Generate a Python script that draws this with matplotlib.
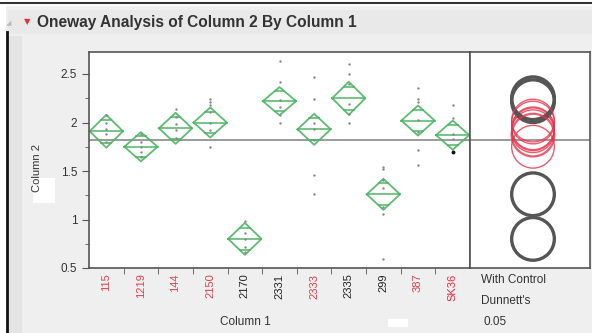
import matplotlib
matplotlib.use("Agg")
import matplotlib.pyplot as plt
from matplotlib.patches import Rectangle, Circle
import numpy as np

plt.rcParams['font.family'] = ['Liberation Sans', 'DejaVu Sans']

# group data
groups = ["115", "1219", "144", "2150", "2170", "2331", "2333", "2335", "299", "387", "SK36"]
label_colors = ["#e0404f", "#e0404f", "#e0404f", "#e0404f", "#222222", "#222222",
                "#e0404f", "#222222", "#222222", "#e0404f", "#e8283c"]
group_means = [1.91, 1.75, 1.94, 2.00, 0.80, 2.22, 1.93, 2.25, 1.26, 2.02, 1.87]
ci_half = [0.17, 0.15, 0.16, 0.155, 0.165, 0.145, 0.16, 0.17, 0.16, 0.155, 0.15]
points = [
    [2.08, 2.00, 1.93, 1.88, 1.80],
    [1.88, 1.80, 1.75, 1.70, 1.64],
    [2.14, 2.06, 1.98, 1.92, 1.84],
    [2.24, 2.21, 2.18, 2.11, 1.99, 1.92, 1.75],
    [0.98, 0.86, 0.80, 0.72, 0.66],
    [2.63, 2.42, 2.23, 2.16, 2.08, 1.99],
    [2.47, 2.24, 2.00, 1.93, 1.82, 1.46, 1.26],
    [2.60, 2.50, 2.40, 2.19, 2.09, 2.00],
    [1.54, 1.52, 1.41, 1.32, 1.13, 1.06, 0.59],
    [2.36, 2.24, 2.21, 2.03, 1.90, 1.72, 1.56],
    [2.18, 2.05, 1.88, 1.83, 1.70],
]
grand_mean = 1.82
circle_radius = 0.22
significant = [False, False, False, False, True, True, False, True, True, False, False]

W, H = 592, 333
fig = plt.figure(figsize=(W / 100, H / 100), dpi=100, facecolor="#efefef")


def fx(px):
    return px / W


def fy(py):
    return 1 - py / H


# window chrome
fig.add_artist(Rectangle((0, fy(6)), 1, 6 / H, transform=fig.transFigure,
                         facecolor="white", edgecolor="none"))
fig.add_artist(Rectangle((0, 0), fx(6), 1, transform=fig.transFigure,
                         facecolor="white", edgecolor="none"))
fig.add_artist(Rectangle((fx(8), 0), fx(14), fy(36), transform=fig.transFigure,
                         facecolor="#e4e4e4", edgecolor="none"))
fig.add_artist(Rectangle((fx(8), fy(34)), 1, 24 / H, transform=fig.transFigure,
                         facecolor="#e9e9e9", edgecolor="none"))
fig.add_artist(plt.Line2D([0, 1], [fy(3), fy(3)], transform=fig.transFigure,
                          color="#333333", lw=1.5))
fig.add_artist(plt.Line2D([fx(7), fx(7)], [0, fy(32)], transform=fig.transFigure,
                          color="#111111", lw=2))

fig.text(fx(9), fy(23), "◢", fontsize=5, color="#bbbbbb", ha="center", va="center",
         family=["DejaVu Sans"])
fig.text(fx(27), fy(22), "▼", fontsize=6, color="#e0303c", ha="center", va="center",
         family=["DejaVu Sans"])
fig.text(fx(37), fy(22), "Oneway Analysis of Column 2 By Column 1", fontsize=11.2,
         fontweight="bold", color="#333333", ha="left", va="center")

# main plot
ax = fig.add_axes([fx(89), fy(268), fx(470 - 89), (268 - 52) / H])
ax.set_facecolor("white")
x = np.arange(len(groups))
dw = 0.48
green = "#4cb463"
for i, (m, h) in enumerate(zip(group_means, ci_half)):
    ax.plot([i - dw, i, i + dw, i, i - dw], [m, m + h, m, m - h, m],
            color=green, lw=1.3, alpha=0.9)
    ax.plot([i - dw, i + dw], [m, m], color=green, lw=1.2, alpha=0.9)
    ov = h / np.sqrt(2)
    ow = dw * (1 - 1 / np.sqrt(2))
    for s in (1, -1):
        ax.plot([i - ow, i + ow], [m + s * ov, m + s * ov], color=green, lw=1.2, alpha=0.9)
    ax.scatter(np.full(len(points[i]), i), points[i], s=3, color="#888888",
               zorder=3, linewidths=0)
ax.scatter([10], [1.70], s=8, color="#111111", zorder=4, linewidths=0)
ax.axhline(grand_mean, color="#8a8a8a", lw=1.2, zorder=1)

ax.set_xlim(-0.5, len(groups) - 0.5)
ax.set_ylim(0.5, 0.5 + 216 / 97)
ax.set_yticks([0.5, 1, 1.5, 2, 2.5])
ax.set_yticklabels(["0.5", "1", "1.5", "2", "2.5"])
ax.set_yticks(np.arange(0.75, 2.7, 0.5), minor=True)
ax.set_xticks(x)
ax.set_xticklabels(groups, rotation=90, fontsize=8)
for lab, c in zip(ax.get_xticklabels(), label_colors):
    lab.set_color(c)
ax.set_xticks(np.arange(0.5, len(groups) - 1, 1), minor=True)
ax.tick_params(axis="x", which="major", length=0, pad=4)
ax.tick_params(axis="x", which="minor", length=4, color="#555555")
ax.tick_params(axis="y", which="major", length=5, color="#555555", labelsize=8.5,
               labelcolor="#333333")
ax.tick_params(axis="y", which="minor", length=3, color="#555555")
for sp in ax.spines.values():
    sp.set_color("#555555")
    sp.set_linewidth(1.2)

# comparison circles
ax2 = fig.add_axes([fx(470), fy(268), fx(590 - 470), (268 - 52) / H])
ax2.set_facecolor("white")
ax2.set_xlim(0, 120 / 97)
ax2.set_ylim(ax.get_ylim())
ax2.axhline(grand_mean, color="#8a8a8a", lw=1.2, zorder=1)
cx = 63 / 97
for m, sig, g in zip(group_means, significant, groups):
    if sig:
        ax2.add_patch(Circle((cx, m), circle_radius, fill=False, color="#555555", lw=2.4))
    else:
        ax2.add_patch(Circle((cx, m), circle_radius, fill=False, color="#e8334a",
                             lw=1.6 if g == "SK36" else 1.0, alpha=0.8))
ax2.set_xticks([])
ax2.set_yticks([])
for sp in ax2.spines.values():
    sp.set_color("#555555")
    sp.set_linewidth(1.2)

# axis titles
fig.add_artist(Rectangle((fx(33), fy(203)), fx(22), 25 / H, transform=fig.transFigure,
                         facecolor="white", edgecolor="none"))
fig.text(fx(37), fy(168), "Column 2", rotation=90, fontsize=8, color="#333333",
         ha="center", va="center")
fig.text(fx(245), fy(322), "Column 1", fontsize=8.5, color="#333333",
         ha="center", va="center")
fig.add_artist(Rectangle((fx(388), fy(327)), fx(20), 8 / H, transform=fig.transFigure,
                         facecolor="white", edgecolor="none"))
fig.text(fx(481), fy(280), "With Control", fontsize=8.5, color="#333333",
         ha="left", va="center")
fig.text(fx(481), fy(301), "Dunnett's", fontsize=8.5, color="#333333",
         ha="left", va="center")
fig.text(fx(483), fy(322), "0.05", fontsize=8.5, color="#333333",
         ha="left", va="center")

fig.savefig("out.png", dpi=100, facecolor=fig.get_facecolor())
